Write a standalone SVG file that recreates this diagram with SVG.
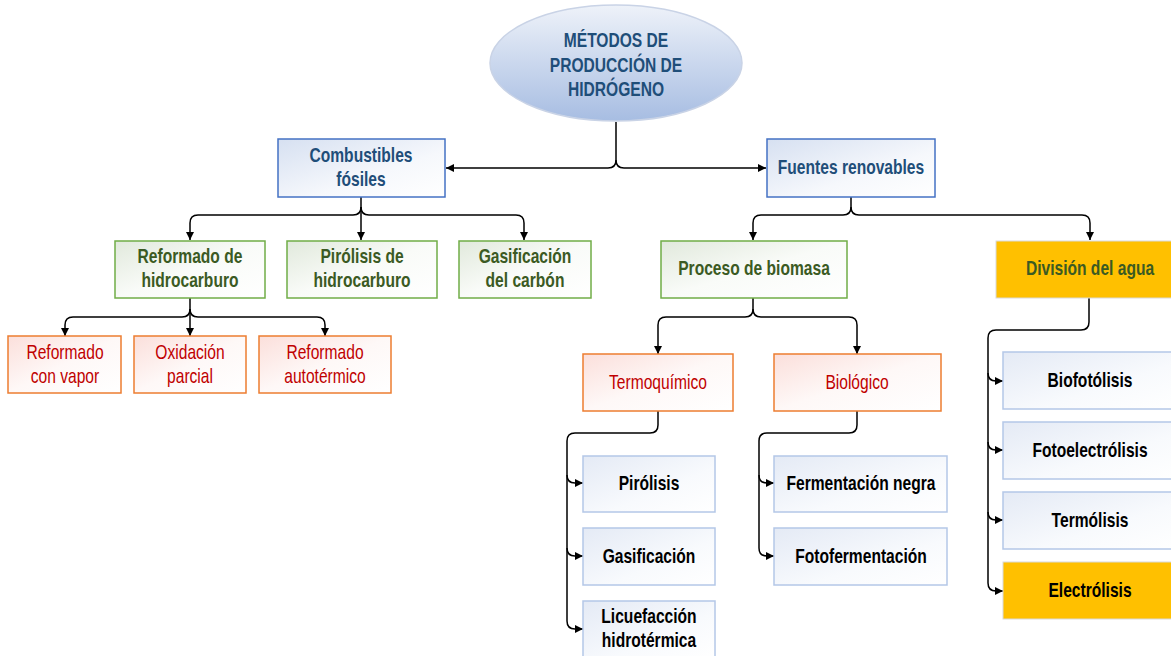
<svg xmlns="http://www.w3.org/2000/svg" width="1171" height="656" viewBox="0 0 1171 656">
<defs>
<linearGradient id="gEll" x1="0" y1="0" x2="0" y2="1"><stop offset="0" stop-color="#EEF2F9"/><stop offset="1" stop-color="#A7BDE2"/></linearGradient>
<linearGradient id="gBlue" x1="0" y1="0" x2="1" y2="1"><stop offset="0" stop-color="#D6E0F1"/><stop offset="0.6" stop-color="#F6F8FC"/><stop offset="1" stop-color="#FFFFFF"/></linearGradient>
<linearGradient id="gGreen" x1="0" y1="0" x2="1" y2="1"><stop offset="0" stop-color="#E1E9DC"/><stop offset="0.5" stop-color="#F9FBF8"/><stop offset="1" stop-color="#FFFFFF"/></linearGradient>
<linearGradient id="gRed" x1="0" y1="0" x2="1" y2="1"><stop offset="0" stop-color="#FBDFDB"/><stop offset="0.5" stop-color="#FEF8F7"/><stop offset="1" stop-color="#FFFFFF"/></linearGradient>
<linearGradient id="gLeaf" x1="0" y1="0" x2="1" y2="1"><stop offset="0" stop-color="#E4EAF5"/><stop offset="0.6" stop-color="#F8FAFD"/><stop offset="1" stop-color="#FFFFFF"/></linearGradient>
<marker id="arr" viewBox="0 0 10 10" refX="10" refY="5" markerWidth="8" markerHeight="8" markerUnits="userSpaceOnUse" orient="auto"><path d="M0,0 L10,5 L0,10 z" fill="#000"/></marker>
</defs>
<style>
text{font-family:"Liberation Sans Narrow","Arial Narrow","Liberation Sans",Arial,sans-serif;font-size:20px;text-anchor:middle}
.tb{fill:#1F4E79;font-weight:bold}
.tg{fill:#3B5A23;font-weight:bold}
.tr{fill:#C00000}
.tk{fill:#000;font-weight:bold}
.nb{fill:url(#gBlue);stroke:#4472C4;stroke-width:1.5}
.ng{fill:url(#gGreen);stroke:#70AD47;stroke-width:1.5}
.nr{fill:url(#gRed);stroke:#ED7D31;stroke-width:1.5}
.nl{fill:url(#gLeaf);stroke:#B4C7E7;stroke-width:1.5}
.ny{fill:#FFC000;stroke:#D9D9D9;stroke-width:1}
.c{fill:none;stroke:#000;stroke-width:1.5}
</style>
<g id="connectors">
<path class="c" d="M616,122 V160 Q616,168 608,168 H446" marker-end="url(#arr)"/>
<path class="c" d="M616,160 Q616,168 624,168 H766" marker-end="url(#arr)"/>
<path class="c" d="M361,197 V240" marker-end="url(#arr)"/>
<path class="c" d="M361,207 Q361,215 353,215 H198 Q190,215 190,223 V240" marker-end="url(#arr)"/>
<path class="c" d="M361,207 Q361,215 369,215 H516 Q524,215 524,223 V240" marker-end="url(#arr)"/>
<path class="c" d="M190,298 V336" marker-end="url(#arr)"/>
<path class="c" d="M190,309 Q190,317 182,317 H73 Q65,317 65,325 V336" marker-end="url(#arr)"/>
<path class="c" d="M190,309 Q190,317 198,317 H317 Q325,317 325,325 V336" marker-end="url(#arr)"/>
<path class="c" d="M851,197 V207 Q851,215 843,215 H761 Q753,215 753,223 V240" marker-end="url(#arr)"/>
<path class="c" d="M851,207 Q851,215 859,215 H1082 Q1090,215 1090,223 V240" marker-end="url(#arr)"/>
<path class="c" d="M753,298 V309 Q753,317 745,317 H666 Q658,317 658,325 V354" marker-end="url(#arr)"/>
<path class="c" d="M753,309 Q753,317 761,317 H849 Q857,317 857,325 V354" marker-end="url(#arr)"/>
<path class="c" d="M658,411 V425 Q658,433 650,433 H575 Q567,433 567,441 V621 Q567,629 575,629 H583" marker-end="url(#arr)"/>
<path class="c" d="M567,475 Q567,483 575,483 H583" marker-end="url(#arr)"/>
<path class="c" d="M567,548 Q567,556 575,556 H583" marker-end="url(#arr)"/>
<path class="c" d="M857,411 V425 Q857,433 849,433 H767 Q759,433 759,441 V548 Q759,556 767,556 H774" marker-end="url(#arr)"/>
<path class="c" d="M759,475 Q759,483 767,483 H774" marker-end="url(#arr)"/>
<path class="c" d="M1089,298 V322 Q1089,330 1081,330 H996 Q988,330 988,338 V583 Q988,591 996,591 H1003" marker-end="url(#arr)"/>
<path class="c" d="M988,373 Q988,381 996,381 H1003" marker-end="url(#arr)"/>
<path class="c" d="M988,442 Q988,450 996,450 H1003" marker-end="url(#arr)"/>
<path class="c" d="M988,512 Q988,520 996,520 H1003" marker-end="url(#arr)"/>
</g>
<g id="root"><ellipse cx="616" cy="63" rx="126" ry="58" fill="url(#gEll)" stroke="#C9D3E6" stroke-width="1.5"/>
<text class="tb" transform="matrix(.78 0 0 1 616 47)">MÉTODOS DE</text><text class="tb" transform="matrix(.78 0 0 1 616 72)">PRODUCCIÓN DE</text><text class="tb" transform="matrix(.78 0 0 1 616 96)">HIDRÓGENO</text></g>
<g id="fosiles"><rect class="nb" x="278" y="139" width="167" height="58"/><text class="tb" transform="matrix(.78 0 0 1 361 162)">Combustibles</text><text class="tb" transform="matrix(.78 0 0 1 361 186)">fósiles</text></g>
<g id="renovables"><rect class="nb" x="767" y="139" width="168" height="58"/><text class="tb" transform="matrix(.78 0 0 1 851 174)">Fuentes renovables</text></g>
<g id="reformado"><rect class="ng" x="115" y="241" width="150" height="57"/><text class="tg" transform="matrix(.78 0 0 1 190 263)">Reformado de</text><text class="tg" transform="matrix(.78 0 0 1 190 287)">hidrocarburo</text></g>
<g id="pirolisis-h"><rect class="ng" x="287" y="241" width="150" height="57"/><text class="tg" transform="matrix(.78 0 0 1 362 263)">Pirólisis de</text><text class="tg" transform="matrix(.78 0 0 1 362 287)">hidrocarburo</text></g>
<g id="gasif-carbon"><rect class="ng" x="459" y="241" width="132" height="57"/><text class="tg" transform="matrix(.78 0 0 1 525 263)">Gasificación</text><text class="tg" transform="matrix(.78 0 0 1 525 287)">del carbón</text></g>
<g id="ref-vapor"><rect class="nr" x="8" y="336" width="113" height="57"/><text class="tr" transform="matrix(.78 0 0 1 65 359)">Reformado</text><text class="tr" transform="matrix(.78 0 0 1 65 383)">con vapor</text></g>
<g id="oxidacion"><rect class="nr" x="134" y="336" width="112" height="57"/><text class="tr" transform="matrix(.78 0 0 1 190 359)">Oxidación</text><text class="tr" transform="matrix(.78 0 0 1 190 383)">parcial</text></g>
<g id="ref-auto"><rect class="nr" x="259" y="336" width="132" height="57"/><text class="tr" transform="matrix(.78 0 0 1 325 359)">Reformado</text><text class="tr" transform="matrix(.78 0 0 1 325 383)">autotérmico</text></g>
<g id="biomasa"><rect class="ng" x="661" y="241" width="186" height="57"/><text class="tg" transform="matrix(.78 0 0 1 754 275)">Proceso de biomasa</text></g>
<g id="division"><rect class="ny" x="996" y="241" width="186" height="57"/><text class="tg" transform="matrix(.78 0 0 1 1090 275)">División del agua</text></g>
<g id="termoquimico"><rect class="nr" x="583" y="354" width="150" height="57"/><text class="tr" transform="matrix(.78 0 0 1 658 389)">Termoquímico</text></g>
<g id="biologico"><rect class="nr" x="774" y="354" width="167" height="57"/><text class="tr" transform="matrix(.78 0 0 1 857 389)">Biológico</text></g>
<g id="pirolisis"><rect class="nl" x="583" y="456" width="132" height="56"/><text class="tk" transform="matrix(.78 0 0 1 649 490)">Pirólisis</text></g>
<g id="gasificacion"><rect class="nl" x="583" y="528" width="132" height="57"/><text class="tk" transform="matrix(.78 0 0 1 649 563)">Gasificación</text></g>
<g id="licuefaccion"><rect class="nl" x="583" y="601" width="132" height="58"/><text class="tk" transform="matrix(.78 0 0 1 649 623)">Licuefacción</text><text class="tk" transform="matrix(.78 0 0 1 649 647)">hidrotérmica</text></g>
<g id="ferm-negra"><rect class="nl" x="774" y="456" width="173" height="56"/><text class="tk" transform="matrix(.78 0 0 1 861 490)">Fermentación negra</text></g>
<g id="fotoferm"><rect class="nl" x="774" y="528" width="173" height="57"/><text class="tk" transform="matrix(.78 0 0 1 861 563)">Fotofermentación</text></g>
<g id="biofotolisis"><rect class="nl" x="1003" y="352" width="174" height="57"/><text class="tk" transform="matrix(.78 0 0 1 1090 387)">Biofotólisis</text></g>
<g id="fotoelectrolisis"><rect class="nl" x="1003" y="422" width="174" height="57"/><text class="tk" transform="matrix(.78 0 0 1 1090 457)">Fotoelectrólisis</text></g>
<g id="termolisis"><rect class="nl" x="1003" y="492" width="174" height="57"/><text class="tk" transform="matrix(.78 0 0 1 1090 527)">Termólisis</text></g>
<g id="electrolisis"><rect class="ny" x="1003" y="562" width="174" height="57"/><text class="tk" transform="matrix(.78 0 0 1 1090 597)">Electrólisis</text></g>
</svg>
